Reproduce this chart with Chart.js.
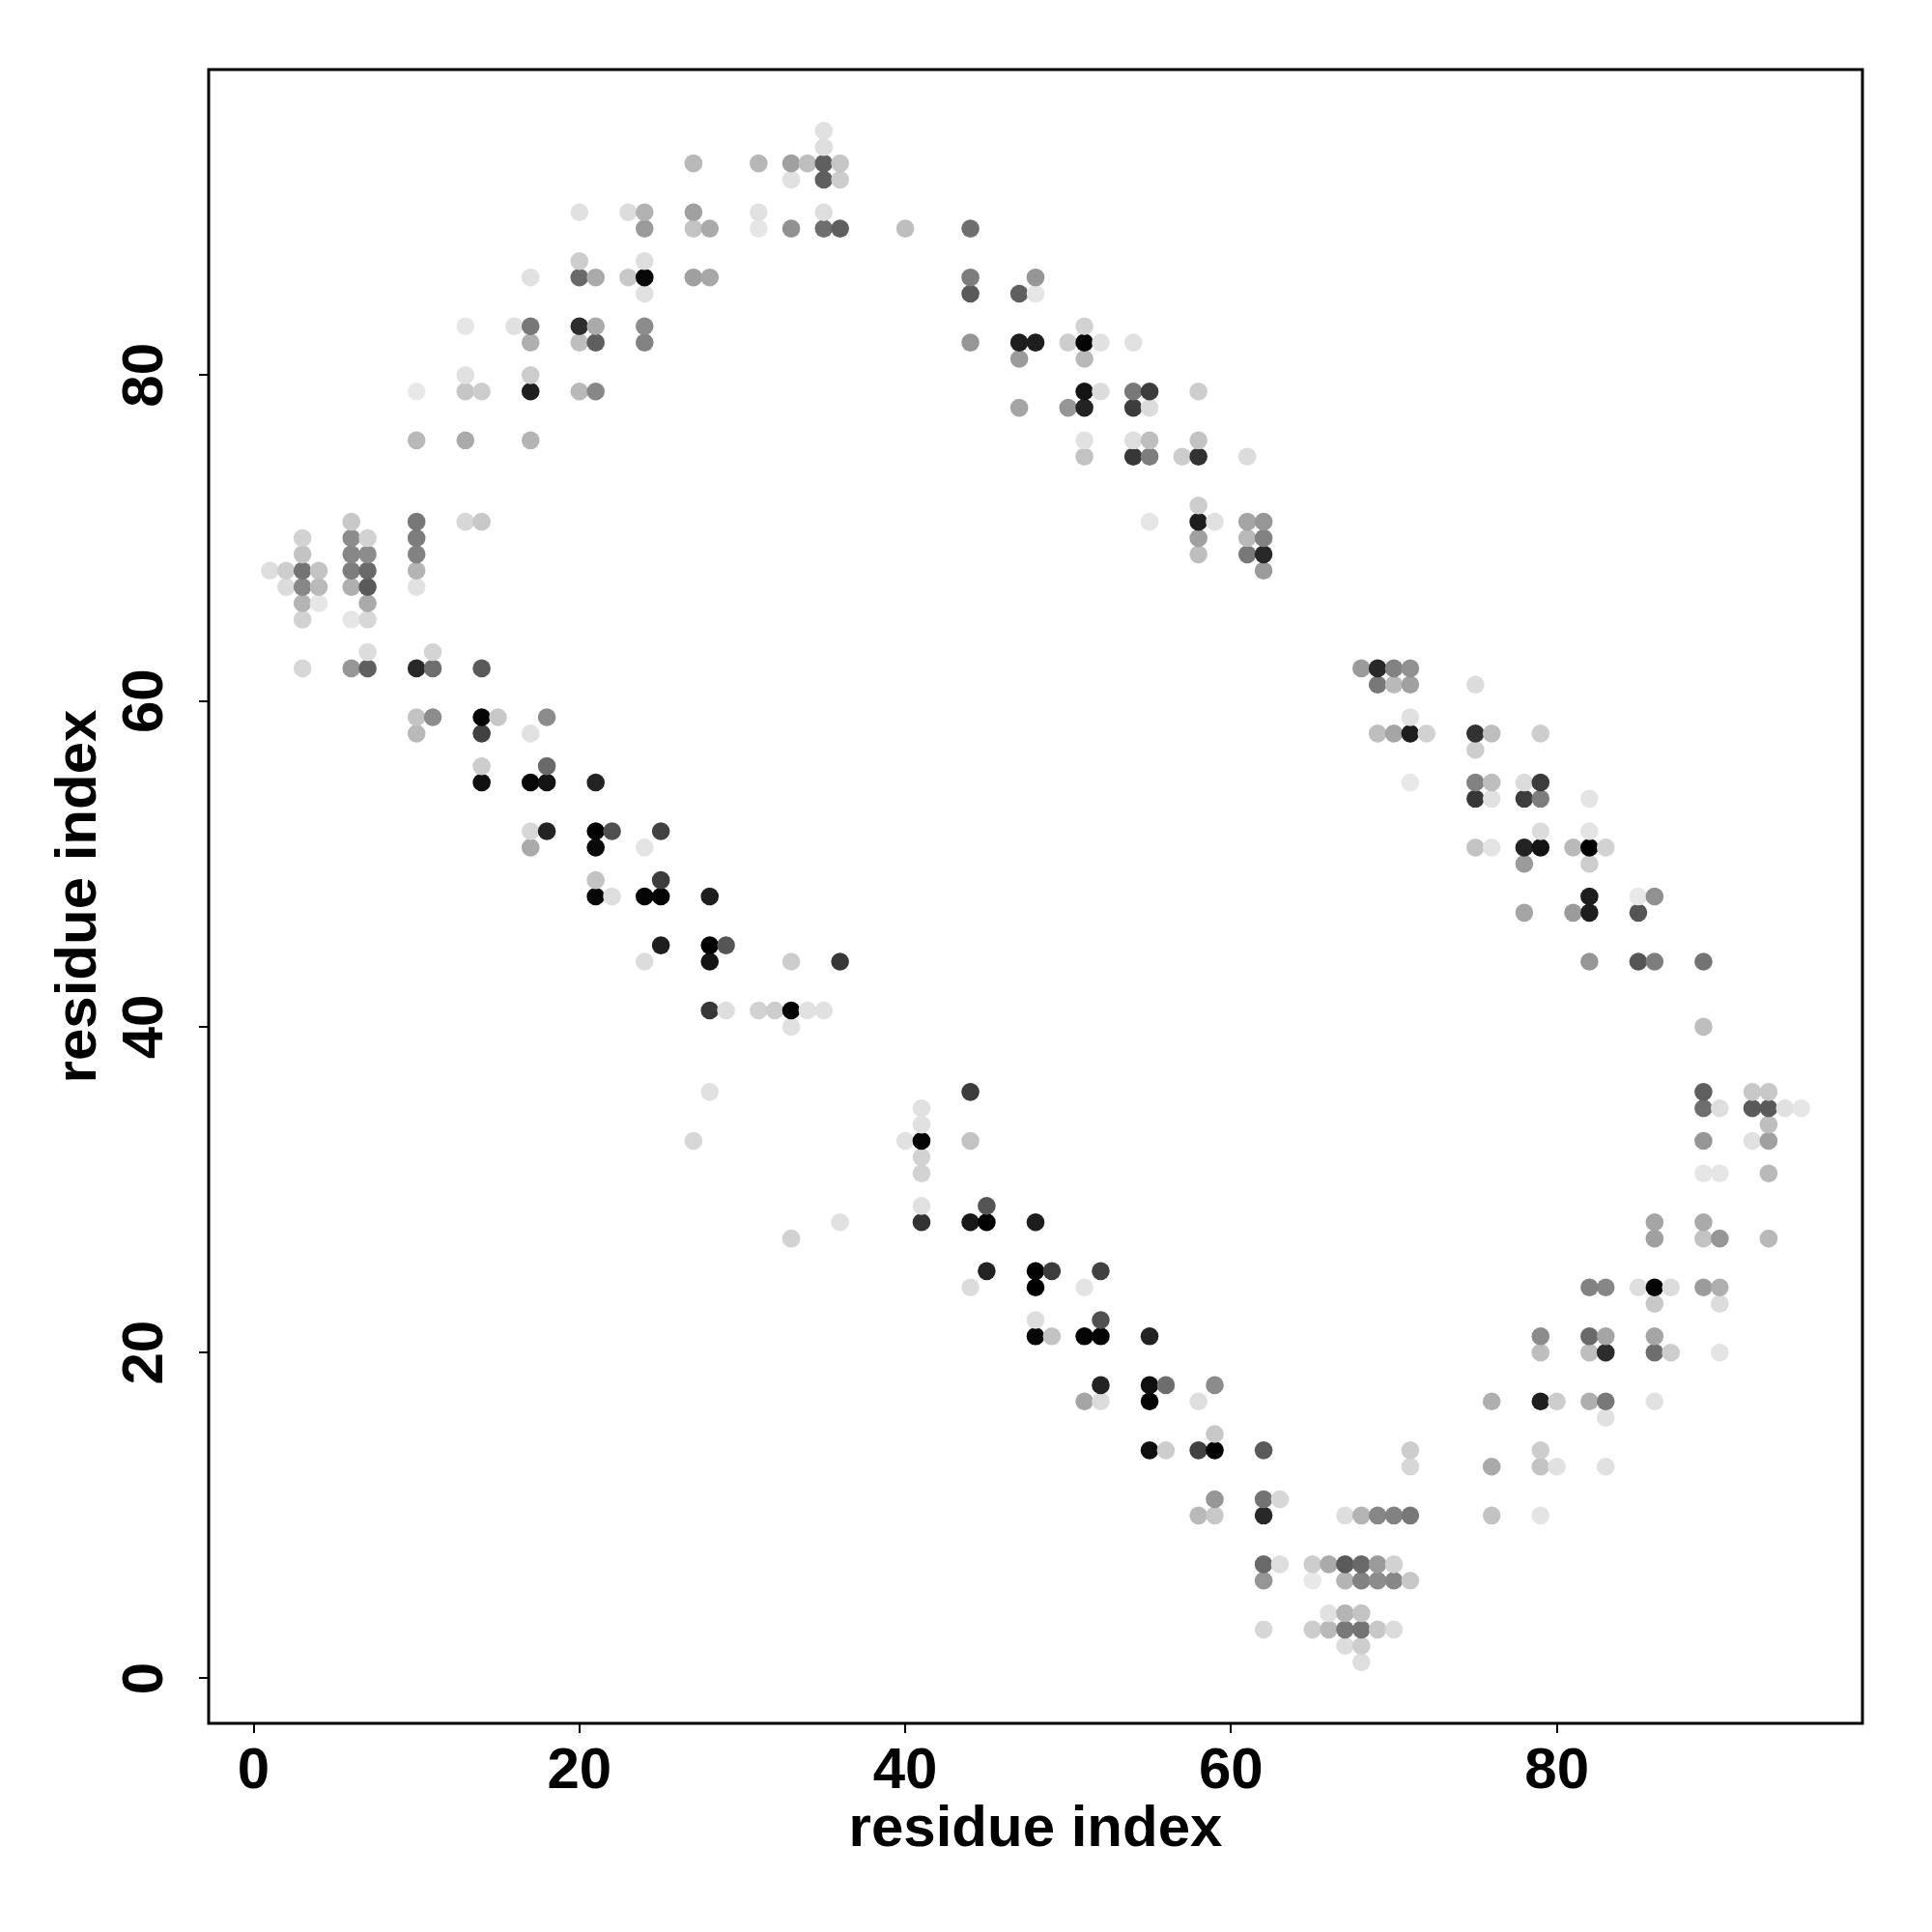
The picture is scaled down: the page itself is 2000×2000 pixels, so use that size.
<!DOCTYPE html>
<html>
<head>
<meta charset="utf-8">
<style>html,body{margin:0;padding:0;background:#fff}canvas{display:block}</style>
<script src="https://cdn.jsdelivr.net/npm/chart.js@4"></script>
</head>
<body>
<canvas id="c" width="2000" height="2000"></canvas>
<script>
const tickValues = [0, 20, 40, 60, 80];
const axisTitle = "residue index";
const rowY = [95,94,93,92,90,89,87,86,85,83,82,81,80,79,78,76,75,72,71,70,69,68,67,66,65,63,62,61,59,58,57,56,55,54,52,51,50,49,48,47,45,44,41,40,36,35,34,33,32,31,29,28,27,25,24,23,22,21,20,18,17,16,15,14,13,11,10,7,6,4,3,2,1];
const rowX = [
[35],
[35],
[27,31,33,34,35,36],
[33,35,36],
[20,23,24,27,31,35],
[24,27,28,31,33,35,36,40,44],
[20,24],
[17,20,21,23,24,27,28,44,48],
[24,44,47,48],
[13,16,17,20,21,24,51],
[17,20,21,24,44,47,48,50,51,52,54],
[47,51],
[13,17],
[10,13,14,17,20,21,51,52,54,55,58],
[47,50,51,54,55],
[10,13,17,51,54,55,58],
[51,54,55,57,58,61],
[58],
[6,10,13,14,55,58,59,61,62],
[3,6,7,10,58,61,62],
[3,6,7,10,58,61,62],
[1,2,3,4,6,7,10,62],
[2,3,4,6,7,10],
[3,4,7],
[3,6,7],
[7,11],
[3,6,7,10,11,14,68,69,70,71],
[69,70,71,75],
[10,11,14,15,18,71],
[10,14,17,69,70,71,72,75,76,79],
[75],
[14,18],
[14,17,18,21,71,75,76,78,79],
[75,76,78,79,82],
[17,18,21,22,25,79,82],
[17,21,24,75,76,78,79,81,82,83],
[78,82],
[21,25],
[21,22,24,25,28,82,85,86],
[78,81,82,85],
[25,28,29],
[24,28,33,36,82,85,86,89],
[28,29,31,32,33,34,35],
[33,89],
[28,44,89,92,93],
[41,89,90,92,93,94,95],
[41,93],
[27,40,41,44,89,92,93],
[41],
[41,89,90,93],
[41,45],
[36,41,44,45,48,86,89],
[33,86,89,90,93],
[45,48,49,52],
[44,48,51,82,83,85,86,87,89,90],
[86,90],
[48,52],
[48,49,51,52,55,79,82,83,86],
[79,82,83,86,87,90],
[52,55,56,59],
[51,52,55,58,76,79,80,82,83,86],
[83],
[59],
[55,56,58,59,62,71,79],
[71,76,79,80,83],
[59,62,63],
[58,59,62,67,68,69,70,71,76,79],
[62,63,65,66,67,68,69,70],
[62,65,67,68,69,70,71],
[66,67,68],
[62,65,66,67,68,69,70],
[67,68],
[68]
];
const rowGray = [
[225],
[222],
[185,183,160,190,95,198],
[225,95,205],
[225,220,178,160,225,222],
[155,195,170,230,145,110,95,190,110],
[205,222],
[225,105,170,200,8,160,168,125,150],
[225,90,95,230],
[230,225,120,45,170,140,210],
[175,190,95,130,150,30,30,205,5,225,225],
[155,185],
[225,205],
[232,198,205,30,185,135,20,220,120,60,205],
[165,150,35,60,220],
[185,170,180,225,222,190,195],
[195,55,125,205,50,220],
[205],
[200,120,215,200,230,30,225,165,150],
[210,140,210,125,160,185,130],
[195,135,140,130,190,120,40],
[222,205,115,195,125,105,180,155],
[220,135,185,175,90,225],
[180,230,170],
[210,230,215],
[220,212],
[215,150,95,40,110,90,155,40,130,145],
[120,185,160,220],
[195,140,5,200,140,225],
[185,65,225,190,165,30,210,50,190,205],
[205],
[205,105],
[15,8,20,35,232,130,190,220,60],
[55,225,60,125,228],
[215,35,2,80,65,220,228],
[170,10,228,195,228,35,20,185,2,210],
[155,205],
[195,60],
[5,222,5,5,30,30,232,145],
[165,155,30,85],
[30,0,85],
[220,20,205,55,150,85,125,115],
[55,222,210,205,5,225,225],
[225,190],
[225,60,95,200,200],
[225,110,222,90,90,225,230],
[225,190],
[215,225,5,195,150,225,160],
[210],
[210,230,230,185],
[225,85],
[225,50,25,0,30,165,170],
[210,160,195,150,185],
[35,2,60,65],
[220,0,228,130,135,222,5,220,155,175],
[200,220],
[222,80],
[5,195,5,5,35,140,105,165,165],
[190,190,45,110,205,228],
[35,15,110,140],
[165,220,5,222,175,30,205,175,120,225],
[225],
[200],
[15,205,65,2,90,205,205],
[215,170,195,225,225],
[150,115,215],
[185,200,40,222,180,135,130,120,195,228],
[105,222,205,170,90,105,155,210],
[150,232,180,130,140,135,200],
[225,180,195],
[215,205,185,120,115,200,220],
[220,205],
[222]
];

const points = [];
rowY.forEach((y, r) => rowX[r].forEach((x, k) => points.push({x, y, gray: rowGray[r][k]})));
points.sort((a, b) => a.x - b.x || a.y - b.y);

const boxPlugin = {
  id: "box",
  afterDatasetsDraw(chart) {
    const a = chart.chartArea, ctx = chart.ctx;
    ctx.save();
    ctx.strokeStyle = "#000";
    ctx.lineWidth = 3;
    ctx.lineJoin = "miter";
    ctx.strokeRect(a.left, a.top, a.right - a.left, a.bottom - a.top);
    ctx.restore();
  }
};
const font = {family: "'Liberation Sans'", size: 60, weight: "bold", lineHeight: 1};
const setTicks = s => { s.ticks = tickValues.map(value => ({value})); };
const grid = {drawOnChartArea: false, drawTicks: true, tickLength: 10, color: "#000", lineWidth: 2};

new Chart(document.getElementById("c"), {
  type: "scatter",
  data: {datasets: [{
    data: points,
    pointRadius: 9.3,
    pointHoverRadius: 9.3,
    pointBorderWidth: 0,
    pointBackgroundColor: points.map(p => `rgb(${p.gray},${p.gray},${p.gray})`)
  }]},
  options: {
    responsive: false,
    animation: false,
    events: [],
    layout: {padding: {left: 0, top: 72, right: 72, bottom: 0}},
    plugins: {legend: {display: false}, title: {display: false}, tooltip: {enabled: false}},
    scales: {
      x: {
        type: "linear", min: -2.76, max: 98.76,
        afterBuildTicks: setTicks,
        afterFit(s) { s.height = 216; },
        grid, border: {display: false},
        ticks: {color: "#000", font, padding: 10, maxRotation: 0, minRotation: 0, autoSkip: false, callback: v => String(v)},
        title: {display: true, text: axisTitle, color: "#000", font, padding: {top: 0, bottom: 76}}
      },
      y: {
        type: "linear", min: -2.76, max: 98.76,
        afterBuildTicks: setTicks,
        afterFit(s) { s.width = 216; },
        grid, border: {display: false},
        ticks: {color: "#000", font, padding: 21, minRotation: 90, maxRotation: 90, crossAlign: "center", autoSkip: false, callback: v => String(v)},
        title: {display: true, text: axisTitle, color: "#000", font, padding: {top: 52, bottom: 0}}
      }
    }
  },
  plugins: [boxPlugin]
});
</script>
</body>
</html>
